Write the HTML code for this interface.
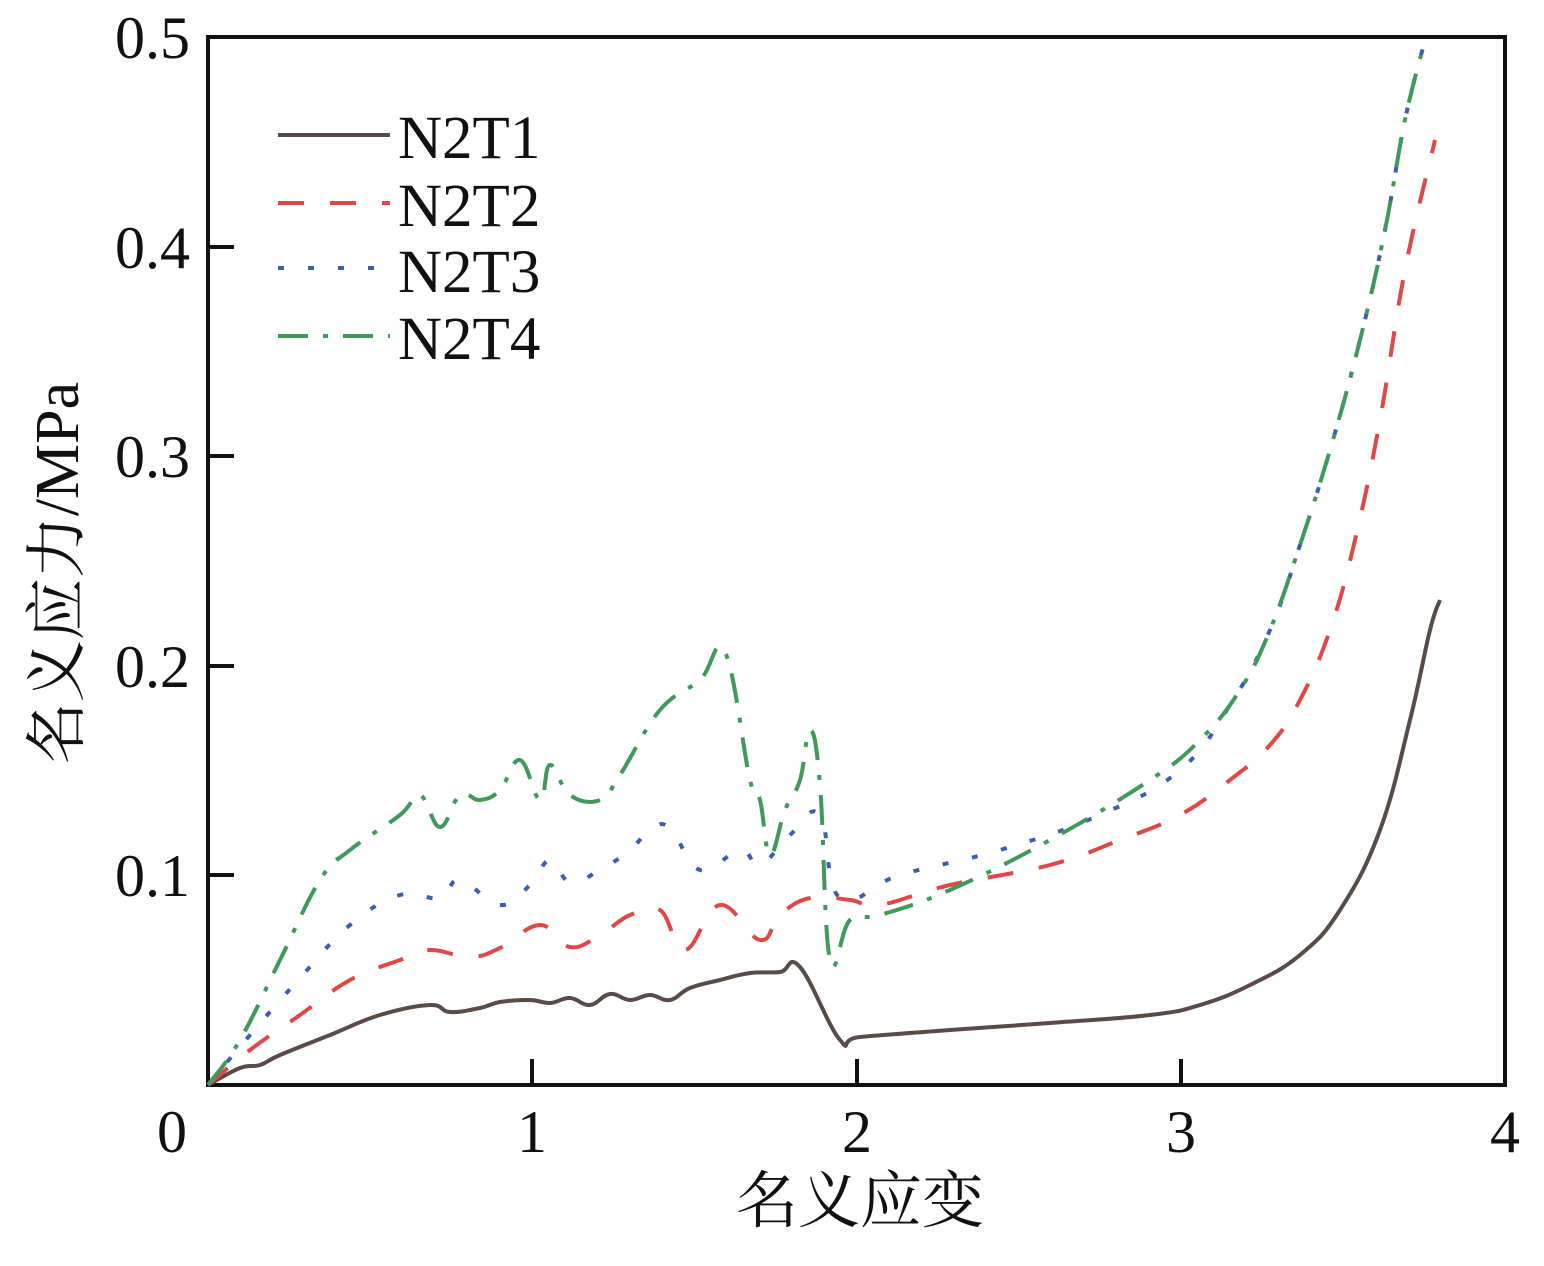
<!DOCTYPE html>
<html><head><meta charset="utf-8"><style>
html,body{margin:0;padding:0;background:#fff;}
svg text{font-family:"Liberation Serif","Noto Serif CJK SC",serif;fill:#111;}
</style></head><body>
<svg width="1544" height="1261" viewBox="0 0 1544 1261" xmlns="http://www.w3.org/2000/svg">
<rect x="208" y="37" width="1297" height="1048" fill="none" stroke="#111" stroke-width="4"/>
<g stroke="#111" stroke-width="4">
<line x1="208" y1="247" x2="234" y2="247"/><line x1="208" y1="456" x2="234" y2="456"/>
<line x1="208" y1="666" x2="234" y2="666"/><line x1="208" y1="875" x2="234" y2="875"/>
<line x1="532" y1="1085" x2="532" y2="1059"/><line x1="857" y1="1085" x2="857" y2="1059"/>
<line x1="1181" y1="1085" x2="1181" y2="1059"/>
</g>
<g font-size="60" text-anchor="end">
<text x="190" y="58">0.5</text><text x="190" y="268">0.4</text><text x="190" y="477">0.3</text>
<text x="190" y="687">0.2</text><text x="190" y="896">0.1</text>
</g>
<g font-size="60" text-anchor="middle">
<text x="172" y="1152">0</text><text x="532" y="1152">1</text><text x="857" y="1152">2</text>
<text x="1181" y="1152">3</text><text x="1505" y="1152">4</text>
</g>
<text x="860" y="1222" font-size="62" text-anchor="middle">名义应变</text>
<text transform="translate(78,573) rotate(-90)" font-size="62" text-anchor="middle">名义应力/MPa</text>
<g fill="none" stroke-width="4" stroke-linejoin="round" stroke-linecap="butt">
<path id="s1" stroke="#5a4a48" data-p="208,1085 240,1068 260,1065 280,1055 330,1035 380,1015 430,1005 450,1012 480,1008 500,1002 530,1000 550,1003 570,998 590,1005 610,994 630,1000 650,995 670,1000 690,988 720,980 750,973 780,972 800,967 840,1040 860,1037 950,1030 1050,1023 1150,1015 1200,1005 1250,985 1300,955 1340,910 1380,830 1410,720 1430,630 1440,600"/>
<path id="s2" stroke="#e04848" stroke-dasharray="26,26" data-p="208,1085 250,1050 300,1015 350,980 400,960 430,950 470,957 500,948 540,925 570,947 600,935 630,915 660,910 685,950 720,905 760,940 780,915 810,898 850,900 880,905 950,885 1050,865 1120,840 1180,815 1230,780 1270,745 1300,700 1330,630 1355,540 1380,420 1405,270 1435,140"/>
<path id="s3" stroke="#3a5fb0" stroke-dasharray="6,24" data-p="208,1085 250,1035 300,978 350,925 400,895 440,898 460,880 500,905 530,885 550,860 570,882 600,870 630,850 650,830 670,828 700,870 740,850 760,865 790,835 820,815 840,898 900,875 1000,850 1100,815 1180,770 1230,705 1270,630 1300,545 1330,450 1360,340 1385,230 1405,120 1425,40"/>
<path id="s4" stroke="#3f9a5a" stroke-dasharray="30,15,5,15" data-p="208,1085 240,1040 280,960 320,880 350,850 400,815 420,795 440,827 460,795 480,800 500,790 520,760 540,800 550,765 570,795 600,800 620,775 660,710 700,680 725,652 750,780 760,800 770,855 785,810 800,780 810,730 820,785 830,960 850,920 880,915 950,890 1050,840 1150,780 1200,740 1240,690 1270,630 1300,545 1330,450 1360,340 1385,230 1405,120 1425,40"/>
</g>
<g stroke-width="4">
<line x1="278" y1="135" x2="390" y2="135" stroke="#5a4a48"/>
<line x1="278" y1="203" x2="390" y2="203" stroke="#e04848" stroke-dasharray="26,26"/>
<line x1="278" y1="268" x2="390" y2="268" stroke="#3a5fb0" stroke-dasharray="6,24"/>
<line x1="278" y1="336" x2="390" y2="336" stroke="#3f9a5a" stroke-dasharray="30,15,5,15"/>
</g>
<g font-size="61">
<text x="398" y="158">N2T1</text><text x="398" y="226">N2T2</text>
<text x="398" y="292">N2T3</text><text x="398" y="359">N2T4</text>
</g>
</svg>
<script>
['s1','s2','s3','s4'].forEach(function(id){
  var el=document.getElementById(id);
  var p=el.getAttribute('data-p').split(' ').map(function(s){return s.split(',').map(Number);});
  var d='M'+p[0][0]+','+p[0][1];
  for(var i=0;i<p.length-1;i++){
    var p0=p[i-1]||p[i],p1=p[i],p2=p[i+1],p3=p[i+2]||p2,t=0.2;
    var c1=[p1[0]+(p2[0]-p0[0])*t,p1[1]+(p2[1]-p0[1])*t];
    var c2=[p2[0]-(p3[0]-p1[0])*t,p2[1]-(p3[1]-p1[1])*t];
    d+=' C'+c1[0]+','+c1[1]+' '+c2[0]+','+c2[1]+' '+p2[0]+','+p2[1];
  }
  el.setAttribute('d',d);
  el.removeAttribute('data-p');
});
</script>
</body></html>
